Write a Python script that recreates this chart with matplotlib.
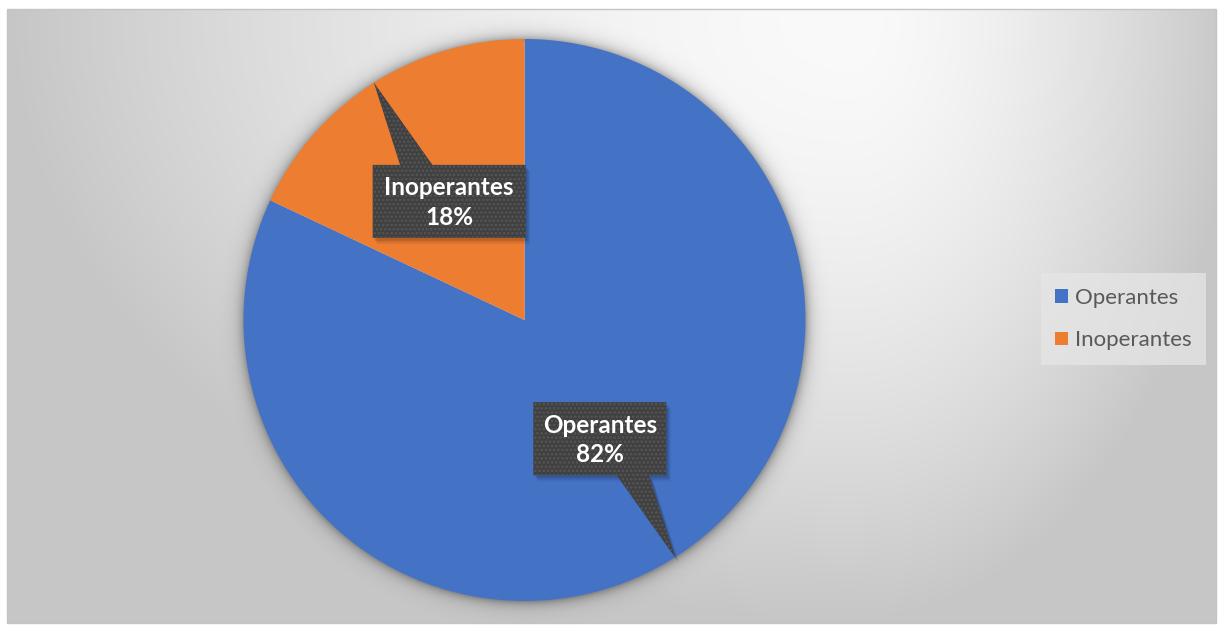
import numpy as np
import matplotlib
matplotlib.use("Agg")
import matplotlib.pyplot as plt
from matplotlib.patches import Polygon, Rectangle

# Data
categories = ["Operantes", "Inoperantes"]
shares = [82, 18]
colors = ["#4472C4", "#ED7D31"]

W, H = 1218, 625
DPI = 100
plt.rcParams["font.family"] = ["Lato", "DejaVu Sans"]
plt.rcParams["hatch.linewidth"] = 1.2

fig = plt.figure(figsize=(W / DPI, H / DPI), dpi=DPI)
fig.patch.set_facecolor("white")

# Background axes in pixel coordinates
bg = fig.add_axes([0, 0, 1, 1])
bg.set_xlim(0, W)
bg.set_ylim(H, 0)
bg.axis("off")

# Chart area with soft gradient fill
x0, x1, y0, y1 = 7, 1216, 9, 623
yy, xx = np.mgrid[y0:y1, x0:x1].astype(float)
cx, cy = 850.0, 20.0
u = np.where(xx < cx, (xx - cx) / (cx - x0), (xx - cx) / (x1 - cx + 20))
v = (yy - cy) / (y1 - cy)
d = np.sqrt(u ** 2 + v ** 2)
g = np.clip(250 - 52 * np.clip(d, 0, 1.3) ** 1.6, 198, 252) / 255.0
bg.imshow(np.dstack([g, g, g]), extent=(x0, x1, y1, y0), interpolation="bilinear", zorder=0)
bg.add_patch(Rectangle((x0, y0), x1 - x0, y1 - y0, fill=False,
                       edgecolor="#c4c4c4", linewidth=1.0, zorder=1))

# Pie geometry (pixels)
pcx, pcy, R = 524.5, 320.0, 281.0

# Soft shadow around the pie
sx0, sx1, sy0, sy1 = int(pcx - R - 30), int(pcx + R + 30), int(pcy - R - 30), int(pcy + R + 30)
syy, sxx = np.mgrid[sy0:sy1, sx0:sx1].astype(float)
rr = np.hypot(sxx - pcx, syy - pcy)
alpha = np.where(rr >= R - 2, 0.32 * np.exp(-np.clip(rr - R, 0, None) / 6.0), 0.0)
shadow = np.zeros((sy1 - sy0, sx1 - sx0, 4))
shadow[..., 3] = alpha
bg.imshow(shadow, extent=(sx0, sx1, sy1, sy0), interpolation="bilinear", zorder=2)

# Pie axes, square, centred on the pie
pax = fig.add_axes([(pcx - R) / W, (H - pcy - R) / H, 2 * R / W, 2 * R / H])
pax.patch.set_alpha(0)
wedges, _ = pax.pie(shares, colors=colors, startangle=90, counterclock=False,
                    radius=1.0, wedgeprops=dict(linewidth=0))
pax.set_xlim(-1, 1)
pax.set_ylim(-1, 1)
pax.set_aspect("equal")
pax.axis("off")

# Callout data labels
box_sizes = {"Operantes": (133 / R, 73 / R), "Inoperantes": (153 / R, 73 / R)}
for wedge, name, val in zip(wedges, categories, shares):
    mid = np.deg2rad((wedge.theta1 + wedge.theta2) / 2)
    tip = np.array([np.cos(mid), np.sin(mid)])
    c = 0.5 * tip
    bw, bh = box_sizes[name]
    l, r_, b, t = c[0] - bw / 2, c[0] + bw / 2, c[1] - bh / 2, c[1] + bh / 2
    s = 1 if tip[0] > c[0] else -1
    base_a, base_b = c[0] + s * 0.06, c[0] + s * 0.175
    ba, bb = sorted([base_a, base_b])
    if tip[1] > c[1]:
        pts = [(l, b), (r_, b), (r_, t), (bb, t), tuple(tip), (ba, t), (l, t)]
    else:
        pts = [(l, b), (ba, b), tuple(tip), (bb, b), (r_, b), (r_, t), (l, t)]
    pts = np.array(pts)
    # drop shadow
    for k, a in [(0.022, 0.06), (0.016, 0.08), (0.010, 0.10)]:
        pax.add_patch(Polygon(pts + np.array([k * 0.7, -k]), closed=True,
                              facecolor="black", edgecolor="none", alpha=a, zorder=3))
    pax.add_patch(Polygon(pts, closed=True, facecolor="#404040", edgecolor="none", zorder=4))
    pax.add_patch(Polygon(pts, closed=True, facecolor="none", edgecolor="#565656",
                          linewidth=0, hatch="....", zorder=5))
    pax.text(c[0], c[1] - 0.004, f"{name}\n{val}%", ha="center", va="center", color="white",
             fontsize=17.5, fontweight="bold", linespacing=1.32, zorder=6)

# Legend
leg = fig.legend(wedges, categories, loc="center left",
                 bbox_to_anchor=(1041 / W, 1 - 319 / H),
                 fontsize=16, frameon=True, fancybox=False,
                 handlelength=0.55, handleheight=0.55, handletextpad=0.32,
                 labelspacing=1.0, borderpad=0.65, borderaxespad=0)
leg.get_frame().set_facecolor("#e6e6e6")
leg.get_frame().set_alpha(0.75)
leg.get_frame().set_edgecolor("none")
for txt in leg.get_texts():
    txt.set_color("#595959")

fig.savefig("out.png", dpi=DPI)
